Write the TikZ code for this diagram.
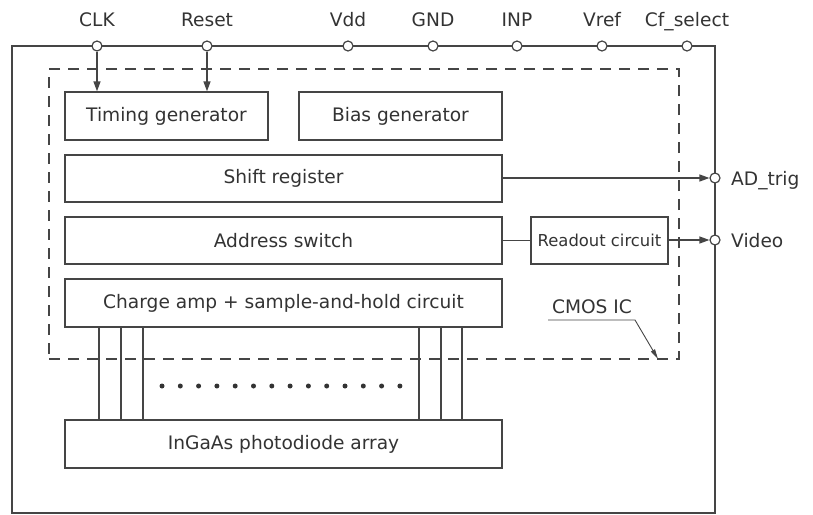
\documentclass[tikz,border=0pt]{standalone}
\usepackage{fontspec}
\setmainfont{DejaVu Sans}
\usetikzlibrary{arrows.meta}
\definecolor{ln}{gray}{0.27}
\definecolor{txt}{gray}{0.2}
\begin{document}
\begin{tikzpicture}[x=1pt,y=-1pt,
  base/.style={font=\fontsize{18.6}{22}\selectfont, text=txt},
  blk/.style={base, draw=ln, line width=1.3pt, inner sep=0pt, fill=white},
  pinc/.style={circle, draw=ln, fill=white, minimum size=10pt, inner sep=0pt, line width=1.2pt},
  lbl/.style={base, inner sep=1pt},
  wire/.style={draw=ln, line width=1.3pt},
  arr/.style={wire, -{Triangle[length=10pt,width=7pt]}}]
\useasboundingbox (0,0) rectangle (813,514);
% outer package
\node[draw=ln, line width=1.3pt, minimum width=703pt, minimum height=467pt, inner sep=0pt] (outer) at (363.5,279.5) {};
% CMOS IC dashed region
\node[draw=ln, line width=1.2pt, dash pattern=on 11pt off 8pt, minimum width=630pt, minimum height=290pt, inner sep=0pt] (cmos) at (364,214) {};
% blocks
\node[blk, minimum width=203pt, minimum height=48pt] (timing) at (166.5,116) {Timing generator};
\node[blk, minimum width=203pt, minimum height=48pt] (bias) at (400.5,116) {Bias generator};
\node[blk, minimum width=437pt, minimum height=47pt] (shift) at (283.5,178.5) {Shift register};
\node[blk, minimum width=437pt, minimum height=47pt] (address) at (283.5,240.5) {Address switch};
\node[blk, minimum width=137pt, minimum height=47pt, font=\fontsize{16.4}{20}\selectfont] (readout) at (599.5,240.5) {Readout circuit};
\node[blk, minimum width=437pt, minimum height=48pt] (charge) at (283.5,303) {Charge amp + sample-and-hold circuit};
\node[blk, minimum width=437pt, minimum height=48pt] (ingaas) at (283.5,444) {InGaAs photodiode array};
% top pins
\foreach \n/\x/\t in {clk/97/CLK, reset/207/Reset, vdd/348/Vdd, gnd/433/GND, inp/517/INP, vref/602/Vref, cfsel/687/Cf\_select}{
  \node[pinc] (\n) at (\x,46) {};
  \node[lbl, anchor=base] (\n lbl) at (\x,26) {\t};
}
% right pins
\node[pinc] (adtrig) at (715,178) {};
\node[lbl, anchor=base west] (adtriglbl) at (730,185) {AD\_trig};
\node[pinc] (video) at (715,240) {};
\node[lbl, anchor=base west] (videolbl) at (730,247) {Video};
% connectors
\draw[arr] (clk.south) -- (clk.south |- timing.north);
\draw[arr] (reset.south) -- (reset.south |- timing.north);
\draw[arr] (shift.east |- adtrig) -- (adtrig.west);
\draw[wire] (address.east |- readout.west) -- (readout.west);
\draw[arr] (readout.east |- video) -- (video.west);
% bond lines
\foreach \x in {99,121,143,419,441,462}{
  \draw[wire, line width=1.2pt] (charge.south -| \x,0) -- (ingaas.north -| \x,0);
}
% dots
\foreach \i in {0,...,13}{
  \fill[txt] (162+\i*18.3,386) circle (2.5pt);
}
% CMOS IC label
\coordinate (ul) at (548,320);
\coordinate (ur) at (635,320);
\coordinate (tip) at (658,359);
\node[lbl, anchor=base] (cmoslbl) at (592,313) {CMOS IC};
\draw[draw=ln, line width=0.9pt, -{Triangle[length=10pt,width=4.5pt]}] (ul) -- (ur) -- (tip);
\end{tikzpicture}
\end{document}
